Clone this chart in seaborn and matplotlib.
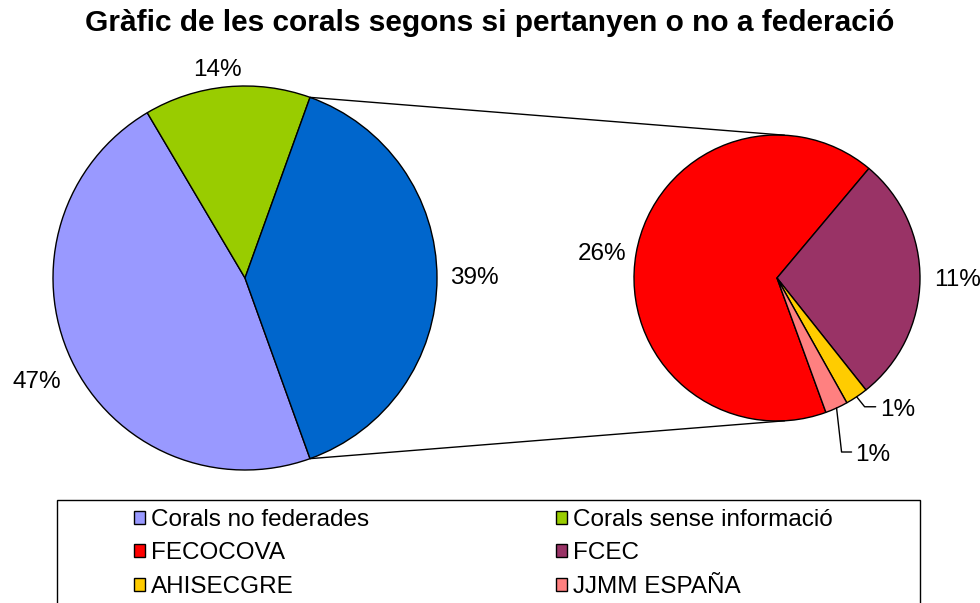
import numpy as np
import matplotlib
matplotlib.use("Agg")
import matplotlib.pyplot as plt
import seaborn as sns
from matplotlib.patches import Rectangle

# dades
main_labels = ['Corals no federades', 'Corals sense informació', 'Corals federades']
main_values = [47, 14, 39]
main_colors = ['#9999FF', '#99CC00', '#0066CC']

fed_labels = ['FECOCOVA', 'FCEC', 'AHISECGRE', 'JJMM ESPAÑA']
fed_values = [26, 11, 1, 1]
fed_colors = ['#FF0000', '#993366', '#FFCC00', '#FF8080']

titol = 'Gràfic de les corals segons si pertanyen o no a federació'

sns.set_theme(style='white')
plt.rcParams['font.family'] = ['Liberation Sans', 'DejaVu Sans']
plt.rcParams['text.color'] = 'black'

fig = plt.figure(figsize=(9.8, 6.03), dpi=100)
ax = fig.add_axes([0, 0, 1, 1])

wedge_kw = dict(edgecolor='black', linewidth=1)
fs = 17.5

# pastis principal
left_c, left_r = (245, 325), 192
start = -main_values[2] / sum(main_values) * 360 / 2
w1, t1 = ax.pie(main_values, colors=main_colors,
                labels=[f'{v}%' for v in main_values], labeldistance=1.07,
                startangle=start, counterclock=False, center=left_c,
                radius=left_r, wedgeprops=wedge_kw,
                textprops=dict(fontsize=fs, color='black'))

# pastis de federacions
right_c, right_r = (777, 325), 143
w2, t2 = ax.pie(fed_values, colors=fed_colors,
                labels=[f'{v}%' if v > 1 else '' for v in fed_values],
                labeldistance=1.1, startangle=-70, counterclock=False,
                center=right_c, radius=right_r, wedgeprops=wedge_kw,
                textprops=dict(fontsize=fs, color='black'))

# alineacio de les etiquetes segons el costat
for texts, c in [(t1, left_c), (t2, right_c)]:
    for t in texts:
        x, y = t.get_position()
        t.set_ha('left' if x > c[0] else 'right')
t1[1].set_ha('center')
t1[1].set_position((t1[1].get_position()[0] - 8, t1[1].get_position()[1] + 3))
t1[0].set_position((t1[0].get_position()[0] + 2, t1[0].get_position()[1] - 17))
t2[0].set_position((t2[0].get_position()[0] + 4, t2[0].get_position()[1] - 3))

# etiquetes petites amb linia guia
offsets = {2: ((8, -10), (11, 0)), 3: ((5, -44), (10, 0))}
for i, (d1, d2) in offsets.items():
    w = w2[i]
    mid = np.deg2rad((w.theta1 + w.theta2) / 2)
    ax_ = right_c[0] + right_r * np.cos(mid)
    ay_ = right_c[1] + right_r * np.sin(mid)
    bx, by = ax_ + d1[0], ay_ + d1[1]
    cx, cy = bx + d2[0], by + d2[1]
    ax.plot([ax_, bx, cx], [ay_, by, cy], color='black', lw=1)
    ax.text(cx + 4, cy - 3, f'{fed_values[i]}%', ha='left', va='center',
            fontsize=fs)

# linies d'unio
blue = w1[2]
for a_left, a_right in [(blue.theta1, -87), (blue.theta2, 87)]:
    x0 = left_c[0] + left_r * np.cos(np.deg2rad(a_left))
    y0 = left_c[1] + left_r * np.sin(np.deg2rad(a_left))
    x1 = right_c[0] + right_r * np.cos(np.deg2rad(a_right))
    y1 = right_c[1] + right_r * np.sin(np.deg2rad(a_right))
    ax.plot([x0, x1], [y0, y1], color='black', lw=1)

ax.set_xlim(0, 980)
ax.set_ylim(0, 603)
ax.set_aspect('equal')
ax.axis('off')

fig.text(0.5, 1 - 23 / 603, titol, ha='center', va='center',
         fontsize=21.5, fontweight='bold', color='black')

# llegenda
ax.add_patch(Rectangle((57, -20), 863, 603 - 500 + 20, fill=False,
                       edgecolor='black', lw=1, clip_on=False))
handles = [w1[0], w2[0], w2[2], w1[1], w2[1], w2[3]]
labels = [main_labels[0], fed_labels[0], fed_labels[2],
          main_labels[1], fed_labels[1], fed_labels[3]]
leg = fig.legend(handles, labels, ncol=2, loc='upper left',
                 bbox_to_anchor=(134 / 980, 1 - 509 / 603), frameon=False,
                 fontsize=fs, handlelength=0.45, handleheight=0.45,
                 handletextpad=0.25, columnspacing=7.7, labelspacing=0.47,
                 borderpad=0, borderaxespad=0)
for t in leg.get_texts():
    t.set_color('black')

fig.savefig('out.png', dpi=100)
